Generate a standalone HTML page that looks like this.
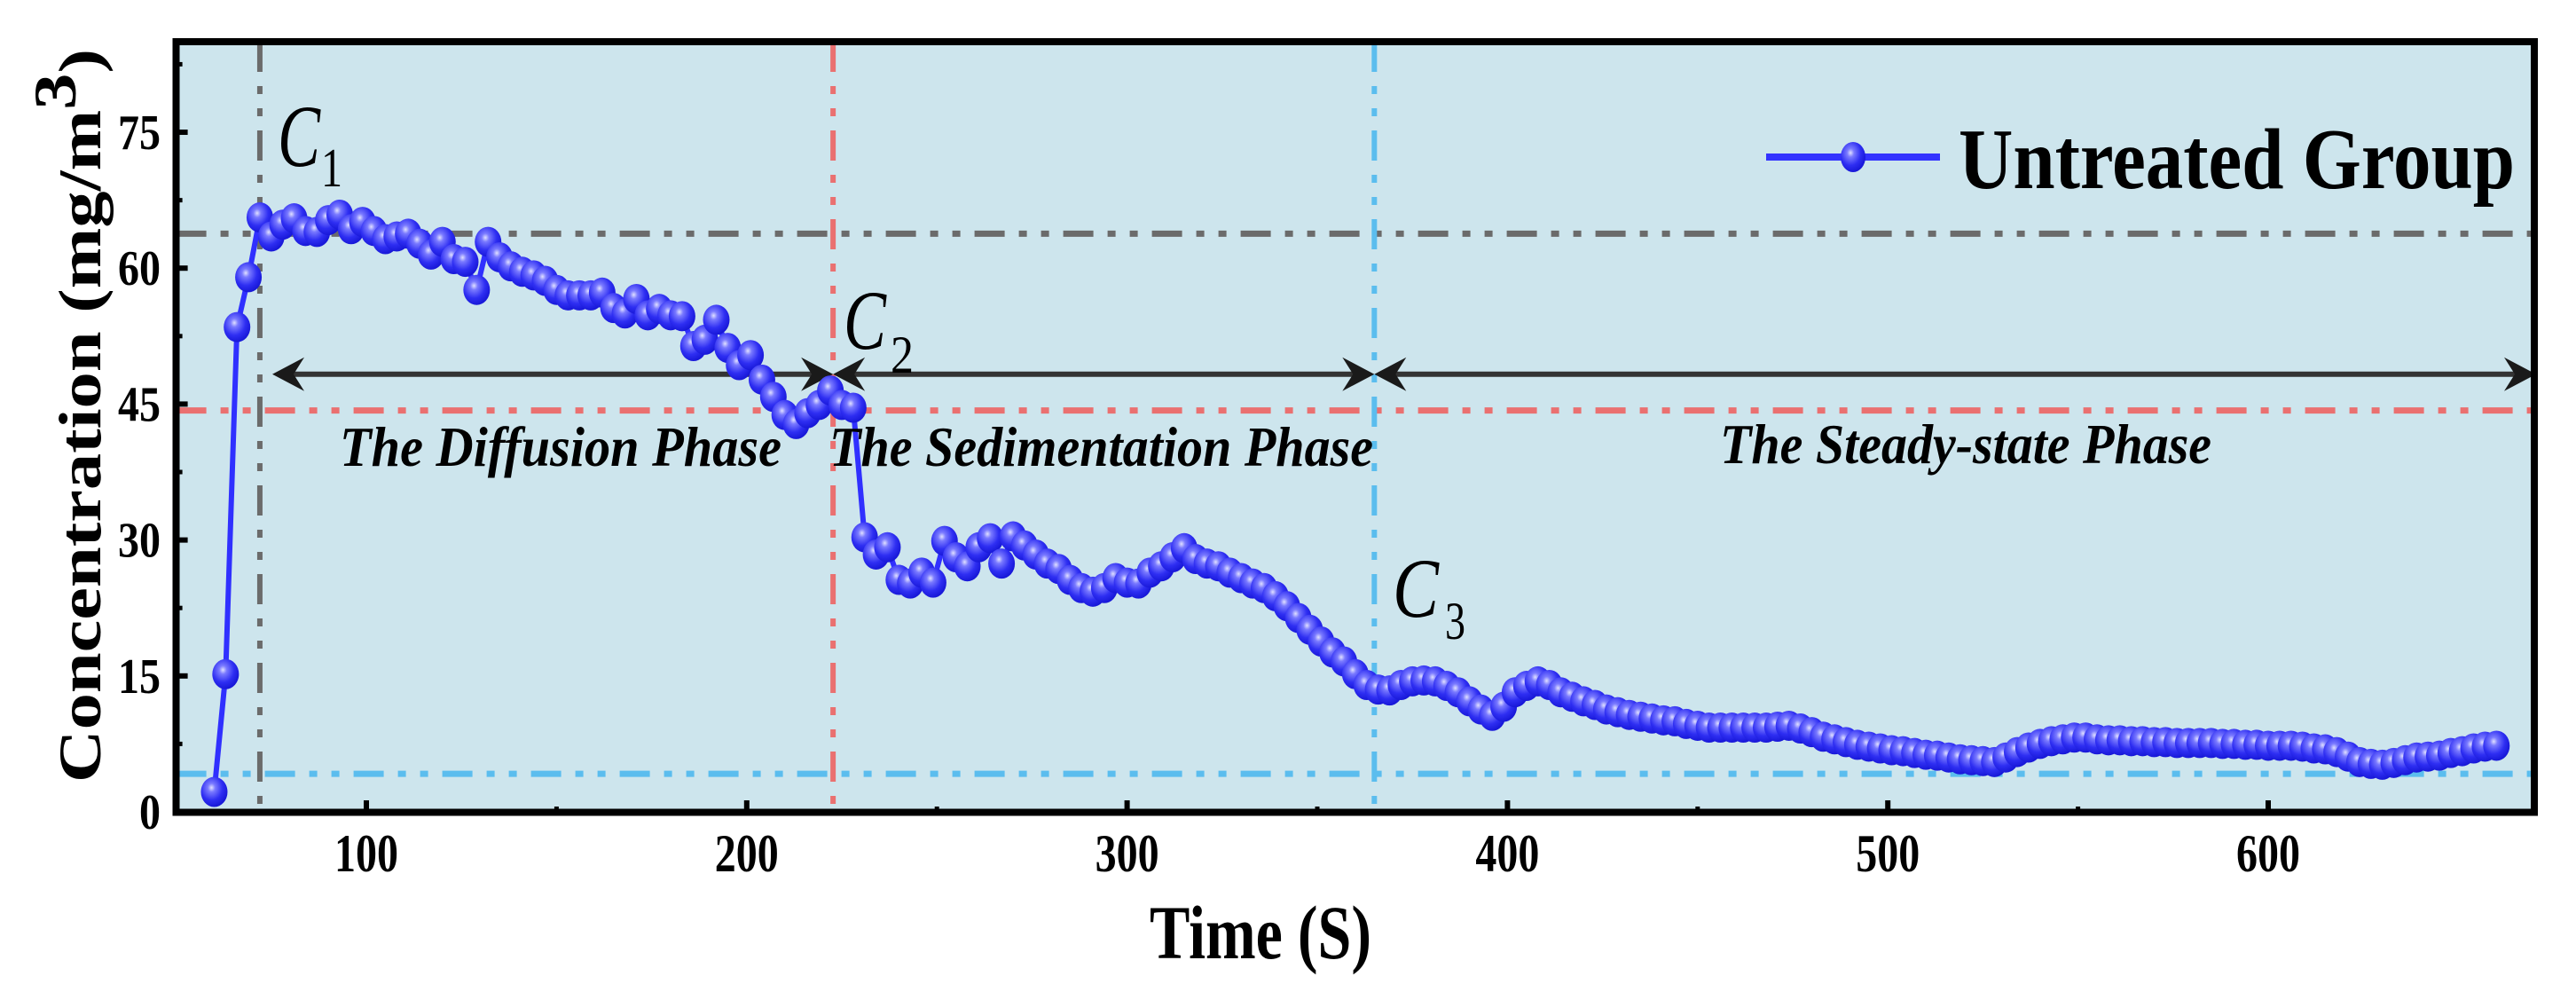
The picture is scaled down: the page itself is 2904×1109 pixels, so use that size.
<!DOCTYPE html>
<html><head><meta charset="utf-8"><style>
html,body{margin:0;padding:0;background:#fff;}
svg{display:block;}
text{font-family:"Liberation Serif","Times New Roman",serif;}
</style></head><body>
<svg id="chart" xmlns="http://www.w3.org/2000/svg" width="2904" height="1109" viewBox="0 0 2904 1109">
<defs>
<radialGradient id="ball" cx="0.4" cy="0.36" r="0.64">
<stop offset="0" stop-color="#e0e0ff"/><stop offset="0.22" stop-color="#7a7aff"/><stop offset="0.65" stop-color="#2e2ef2"/><stop offset="1" stop-color="#1818d8"/>
</radialGradient>
</defs>
<rect x="198" y="47" width="2659" height="868" fill="#cde5ed"/>
<g id="refs"></g>
<g id="arrows"></g>
<g id="series"></g>
<g id="axes"></g>
<rect x="198.5" y="47" width="2658.5" height="868.5" fill="none" stroke="#000" stroke-width="8"/>
<g>
<text x="313" y="187" font-size="100" font-style="italic" textLength="48" lengthAdjust="spacingAndGlyphs">C</text>
<text x="362" y="210" font-size="62" textLength="24" lengthAdjust="spacingAndGlyphs">1</text>
<text x="951" y="393" font-size="95" font-style="italic" textLength="48" lengthAdjust="spacingAndGlyphs">C</text>
<text x="1004" y="420" font-size="60" textLength="26" lengthAdjust="spacingAndGlyphs">2</text>
<text x="1570" y="695" font-size="95" font-style="italic" textLength="52" lengthAdjust="spacingAndGlyphs">C</text>
<text x="1629" y="720" font-size="60" textLength="23" lengthAdjust="spacingAndGlyphs">3</text>
<text x="383" y="525" font-size="64" font-weight="bold" font-style="italic" textLength="498" lengthAdjust="spacingAndGlyphs">The Diffusion Phase</text>
<text x="935" y="525" font-size="64" font-weight="bold" font-style="italic" textLength="613" lengthAdjust="spacingAndGlyphs">The Sedimentation Phase</text>
<text x="1939" y="522" font-size="64" font-weight="bold" font-style="italic" textLength="554" lengthAdjust="spacingAndGlyphs">The Steady-state Phase</text>
</g>
<g>
<line x1="1991" y1="177" x2="2187" y2="177" stroke="#3333ff" stroke-width="8"/>
<ellipse cx="2089" cy="177" rx="14" ry="17" fill="url(#ball)"/>
<text x="2208" y="212" font-size="98" font-weight="bold" textLength="627" lengthAdjust="spacingAndGlyphs">Untreated Group</text>
</g>
<text x="1296" y="1080" font-size="86" font-weight="bold" textLength="250" lengthAdjust="spacingAndGlyphs">Time (S)</text>
<text transform="translate(113,882) rotate(-90)" font-size="68" font-weight="bold" textLength="827" lengthAdjust="spacingAndGlyphs">Concentration (mg/m<tspan font-size="68" dy="-28">3</tspan><tspan dy="28">)</tspan></text>
</svg>
<script>
// ---- data ----
const tStart = 60;
const tStep = 3;
const concentration = [
2.2,15.2,
53.5,59,65.6,63.5,64.8,65.5,64.1,64,65.3,65.9,64.3,65.1,64.1,63.2,63.5,63.8,62.7,61.5,62.9,61,60.7,57.6,62.9,61.2,60.2,59.6,59.2,58.6,57.6,57,57,57,57.3,55.6,55,56.6,54.8,55.5,54.8,54.7,51.4,52.1,54.3,51.2,49.3,50.4,47.7,45.8,43.8,42.8,44,44.9,46.5,44.9,44.6,
30.3,28.4,29.2,25.6,25.2,26.4,25.3,29.9,28.1,27.1,29.2,30.2,27.4,30.4,29.4,28.4,27.4,26.8,25.6,24.7,24.3,24.7,25.8,25.3,25.2,26.4,27.1,28.1,29.1,27.9,27.4,27.1,26.4,25.8,25.2,24.7,23.8,22.7,21.4,20.1,18.8,17.6,16.6,15.2,14.0,13.5,13.4,14.0,14.4,14.5,14.4,13.9,13.2,12.2,11.3,10.6,11.6,13.2,13.9,14.4,14.0,
13.2,12.7,12.2,11.8,11.3,11.0,10.7,10.5,10.3,10.1,10.0,9.7,9.5,9.3,9.3,9.3,9.3,9.3,9.3,9.4,9.5,9.2,8.8,8.3,8.0,7.7,7.4,7.2,7.0,6.8,6.7,6.5,6.3,6.2,6.0,5.8,5.7,5.6,5.5,6.0,6.6,7.1,7.5,7.8,8.0,8.2,8.2,8.0,7.9,7.9,7.8,7.8,7.7,7.7,7.6,7.6,7.6,7.6,7.5,7.5,7.4,7.4,7.3,7.3,7.3,7.2,7.0,6.9,6.6,6.1,5.5,5.3,5.2,5.4,5.7,6.0,6.1,6.2,6.5,6.7,7.0,7.2,7.3
];
const xTicks = [100,200,300,400,500,600];
const xTickLabels = ["100","200","300","400","500","600"];
const yTicks = [0,15,30,45,60,75];
const yTickLabels = ["0","15","30","45","60","75"];
const hLineValues = [63.8, 44.3, 4.2];
const vLineTimes = [72, 222.7, 365];
const arrowLevel = [48.3];

// ---- scales ----
const X0=198.6, XPX=4.288, XMIN=50;
const Y0=915, YPX=10.213;
function xs(t){return X0+(t-XMIN)*XPX;}
function ys(v){return Y0-v*YPX;}
const NS="http://www.w3.org/2000/svg";
function mk(tag,attrs,parent){const e=document.createElementNS(NS,tag);for(const k in attrs)e.setAttribute(k,attrs[k]);parent.appendChild(e);return e;}

const refs=document.getElementById('refs');
const colors=["#6b6b6b","#ea7070","#5bbdee"];
const dash="34 16 9 16 9 16";
const L=198.6,R=2857,T=47,B=915;
hLineValues.forEach((v,i)=>{
  const l=mk('line',{x1:L,x2:R,y1:ys(v),y2:ys(v),stroke:colors[i],'stroke-width':7,'stroke-dasharray':dash},refs);
  
  
});
vLineTimes.forEach((t,i)=>{
  const l=mk('line',{x1:xs(t),x2:xs(t),y1:T,y2:B,stroke:colors[i],'stroke-width':6,'stroke-dasharray':dash},refs);
  
  
});

// arrows
const arr=document.getElementById('arrows');
const ay=ys(arrowLevel[0]);
const ends=[307, xs(vLineTimes[1]), xs(vLineTimes[2]), 2859];
function head(tx,dir){
  const d=`M${tx},${ay} L${tx+dir*36},${ay-19} L${tx+dir*24},${ay} L${tx+dir*36},${ay+19} Z`;
  const p=mk('path',{d:d,fill:'#1a1a1a'},arr);
  
  
}
for(let i=0;i<3;i++){
  const l=mk('line',{x1:ends[i]+10,x2:ends[i+1]-10,y1:ay,y2:ay,stroke:'#333',"stroke-width":6},arr);
  
  
  head(ends[i],1);
  head(ends[i+1],-1);
}

// series
const g=document.getElementById('series');
const pts=concentration.map((v,i)=>[xs(tStart+i*tStep),ys(v)]);
const line=mk('polyline',{points:pts.map(p=>p.join(',')).join(' '),fill:'none',stroke:'#3030ff','stroke-width':6,'stroke-linejoin':'round'},g);


pts.forEach(p=>{
  const c=mk('ellipse',{cx:p[0],cy:p[1],rx:15,ry:17,fill:'url(#ball)'},g);
  
  
});

// axes ticks
const ax=document.getElementById('axes');
xTicks.forEach((t,i)=>{
  const tk=mk('line',{x1:xs(t),x2:xs(t),y1:B,y2:B-13,stroke:'#000','stroke-width':6},ax);
  
  
  const lb=mk('text',{x:xs(t),y:982,'font-size':60,'font-weight':'bold','text-anchor':'middle',textLength:72,lengthAdjust:'spacingAndGlyphs'},ax);
  lb.textContent=xTickLabels[i];
  
  
  const mt=mk('line',{x1:xs(t-50),x2:xs(t-50),y1:B,y2:B-6,stroke:'#000','stroke-width':5},ax);
  
  
});
yTicks.forEach((v,i)=>{
  const tk=mk('line',{x1:L,x2:L+13,y1:ys(v),y2:ys(v),stroke:'#000','stroke-width':6},ax);
  
  
  const lb=mk('text',{x:181,y:ys(v)+19,'font-size':56,'font-weight':'bold','text-anchor':'end',textLength:yTickLabels[i].length*24,lengthAdjust:'spacingAndGlyphs'},ax);
  lb.textContent=yTickLabels[i];
  
  
  const mt=mk('line',{x1:L,x2:L+7,y1:ys(v+7.5),y2:ys(v+7.5),stroke:'#000','stroke-width':5},ax);
  
  
});
</script>
</body></html>
